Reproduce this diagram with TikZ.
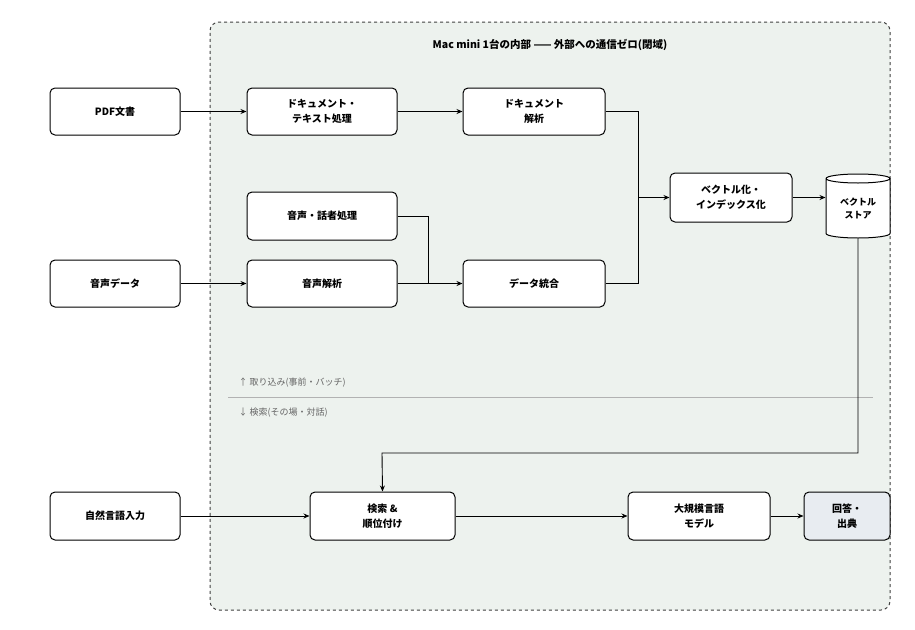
\documentclass[tikz,border=0pt]{standalone}
\usepackage{fontspec}
\setmainfont{Noto Sans CJK JP}
\usetikzlibrary{shapes.geometric,arrows.meta}
\definecolor{zone}{HTML}{EDF2EE}
\definecolor{ans}{HTML}{E8ECF1}
\definecolor{note}{HTML}{666666}
\tikzset{
 box/.style={draw=black,line width=1pt,rounded corners=5pt,fill=white,align=center,font=\fontsize{10}{15}\selectfont\bfseries,inner sep=0pt},
 conn/.style={draw=black,line width=0.9pt,-{Stealth[length=6pt,width=5pt]}},
 lnk/.style={draw=black,line width=0.9pt},
}
\newcommand{\bx}[6]{\node[box,minimum width=#3-#2,minimum height=#5-#4] (#1) at ({(#2+#3)/2},{(#4+#5)/2}) {#6};}
\begin{document}
\begin{tikzpicture}[x=1pt,y=-1pt]
\useasboundingbox (0,0) rectangle (915,629);
\node[draw=black!75,dashed,line width=1pt,rounded corners=9pt,fill=zone,minimum width=680,minimum height=588,inner sep=0pt] (zoneR) at (550,316) {};
\node[font=\fontsize{10.5}{12}\selectfont\bfseries] (title) at (550,45) {Mac mini 1台の内部 —— 外部への通信ゼロ(閉域)};
\bx{pdf}{50}{180}{88}{135}{PDF文書}
\bx{aud}{50}{180}{260}{307}{音声データ}
\bx{nl}{50}{180}{492}{540}{自然言語入力}
\bx{dtp}{247}{397}{88}{135}{ドキュメント・\\テキスト処理}
\bx{dan}{463}{605}{88}{135}{ドキュメント\\解析}
\bx{spk}{247}{397}{192}{240}{音声・話者処理}
\bx{aan}{247}{397}{260}{307}{音声解析}
\bx{mrg}{463}{605}{260}{307}{データ統合}
\bx{vec}{670}{792}{173}{222}{ベクトル化・\\インデックス化}
\bx{srch}{310}{455}{492}{540}{検索 \&\\順位付け}
\bx{llm}{628}{770}{492}{540}{大規模言語\\モデル}
\node[box,fill=ans,minimum width=86,minimum height=48] (ansr) at (847,516) {回答・\\出典};
\node[draw=black,line width=1pt,fill=white,cylinder,shape border rotate=90,aspect=0.25,minimum width=64,minimum height=64,inner sep=0pt,align=center,font=\fontsize{9}{13}\selectfont\bfseries] (store) at (858,208.5) {ベクトル\\ストア};
\coordinate (l1) at (228,397); \coordinate (l2) at (873,397);
\draw[black!30,line width=0.6pt] (l1) -- (l2);
\node[anchor=west,text=note,font=\fontsize{9}{11}\selectfont] (up) at (235,383) {↑ 取り込み(事前・バッチ)};
\node[anchor=west,text=note,font=\fontsize{9}{11}\selectfont] (dn) at (235,413) {↓ 検索(その場・対話)};
\draw[conn] (pdf) -- (dtp);
\draw[conn] (dtp) -- (dan);
\draw[conn] (aud) -- (aan);
\draw[conn] (aan) -- (mrg);
\coordinate (j1) at (428,283.5);
\draw[lnk] (spk.east) -| (j1);
\coordinate (j2) at (638,197.5);
\draw[lnk] (dan.east) -| (j2);
\draw[lnk] (mrg.east) -| (j2);
\draw[conn] (j2) -- (vec.west);
\draw[conn] (vec.east) -- (vec.east -| store.west);
\coordinate (s1) at (858,453); \coordinate (s2) at (382,453);
\draw[conn] (store.bottom) -- (s1) -- (s2) -- (srch.north);
\draw[conn] (nl) -- (srch);
\draw[conn] (srch) -- (llm);
\draw[conn] (llm) -- (ansr);
\end{tikzpicture}
\end{document}
